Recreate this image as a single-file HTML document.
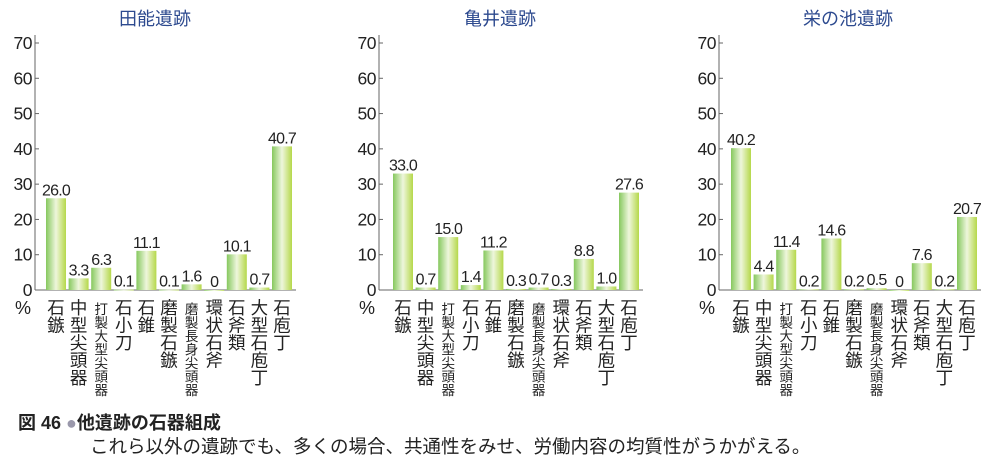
<!DOCTYPE html>
<html><head><meta charset="utf-8"><style>
body{margin:0;background:#fff;width:1000px;height:476px;overflow:hidden;font-family:"Liberation Sans","Noto Sans CJK JP",sans-serif}
svg{position:absolute;left:0;top:0}
.cap1{position:absolute;left:18px;top:409px;font-size:18px;font-weight:bold;color:#222}
.cap2{position:absolute;left:90px;top:433px;font-size:18.5px;color:#222}
</style></head><body>
<svg id="c" width="1000" height="410">
<defs><linearGradient id="g" x1="0" x2="1" y1="0" y2="0">
<stop offset="0" stop-color="#86c85e"/><stop offset="0.5" stop-color="#eef6dc"/><stop offset="1" stop-color="#b5d84a"/></linearGradient></defs>
</svg>
<div class="cap1">図 46 <span style="color:#9a98ab">●</span>他遺跡の石器組成</div>
<div class="cap2">これら以外の遺跡でも、多くの場合、共通性をみせ、労働内容の均質性がうかがえる。</div>
<script>
const categories=["石鏃","中型尖頭器","打製大型尖頭器","石小刀","石錐","磨製石鏃","磨製長身尖頭器","環状石斧","石斧類","大型石庖丁","石庖丁"];
const siteNames=["田能遺跡","亀井遺跡","栄の池遺跡"];
const valuesTano=[26.0,3.3,6.3,0.1,11.1,0.1,1.6,0,10.1,0.7,40.7];
const valuesKamei=[33.0,0.7,15.0,1.4,11.2,0.3,0.7,0.3,8.8,1.0,27.6];
const valuesSakae=[40.2,4.4,11.4,0.2,14.6,0.2,0.5,0,7.6,0.2,20.7];
const labelsTano=["26.0","3.3","6.3","0.1","11.1","0.1","1.6","0","10.1","0.7","40.7"];
const labelsKamei=["33.0","0.7","15.0","1.4","11.2","0.3","0.7","0.3","8.8","1.0","27.6"];
const labelsSakae=["40.2","4.4","11.4","0.2","14.6","0.2","0.5","0","7.6","0.2","20.7"];
const yTicks=[0,10,20,30,40,50,60,70];
const svg=document.getElementById('c');const NS='http://www.w3.org/2000/svg';
function mk(t,a,txt){const e=document.createElementNS(NS,t);for(const k in a)e.setAttribute(k,a[k]);if(txt!==undefined)e.textContent=txt;svg.appendChild(e);return e;}
const y0=290,yTop=43;
function yS(v){return y0-(v/70)*(y0-yTop);}
function draw(ax,firstC,vals,labs,name,titleX,si){
  const pitch=22.6;const xS=i=>firstC+i*pitch;
  let e=mk('text',{x:titleX,y:25,'text-anchor':'middle','font-size':18,fill:'#2d4a8f'},name);
  
  
  e=mk('line',{x1:ax,y1:yTop-8,x2:ax,y2:y0,stroke:'#666','stroke-width':1});
  
  
  e=mk('line',{x1:ax,y1:y0,x2:xS(10)+14,y2:y0,stroke:'#666','stroke-width':1});
  
  
  yTicks.forEach(t=>{
    mk('line',{x1:ax,y1:yS(t),x2:ax+4,y2:yS(t),stroke:'#666'});
    e=mk('text',{x:ax-3,y:yS(t)+6,'text-anchor':'end','font-size':17.5,fill:'#222','letter-spacing':'-0.5'},String(t));
    
    
  });
  e=mk('text',{x:ax-4,y:314,'text-anchor':'end','font-size':18,fill:'#222'},'%');
  
  
  vals.forEach((v,i)=>{
    const h=y0-yS(v);
    e=mk('rect',{x:xS(i)-10,y:yS(v),width:20,height:Math.max(h,0.8),fill:'url(#g)'});
    
    
    e=mk('text',{x:xS(i),y:yS(v)-3,'text-anchor':'middle','font-size':16,fill:'#222','letter-spacing':'-0.8'},labs[i]);
    
    
    const chars=[...categories[i]];const fs=chars.length>5?13.5:17.5;
    chars.forEach((ch,j)=>{
      e=mk('text',{x:xS(i),y:314+j*fs,'text-anchor':'middle','font-size':fs,fill:'#222'},ch);
      
      
    });
  });
}
draw(35,56,valuesTano,labelsTano,siteNames[0],155,0);
draw(379,403,valuesKamei,labelsKamei,siteNames[1],500,1);
draw(719,741,valuesSakae,labelsSakae,siteNames[2],848,2);
</script>
</body></html>
